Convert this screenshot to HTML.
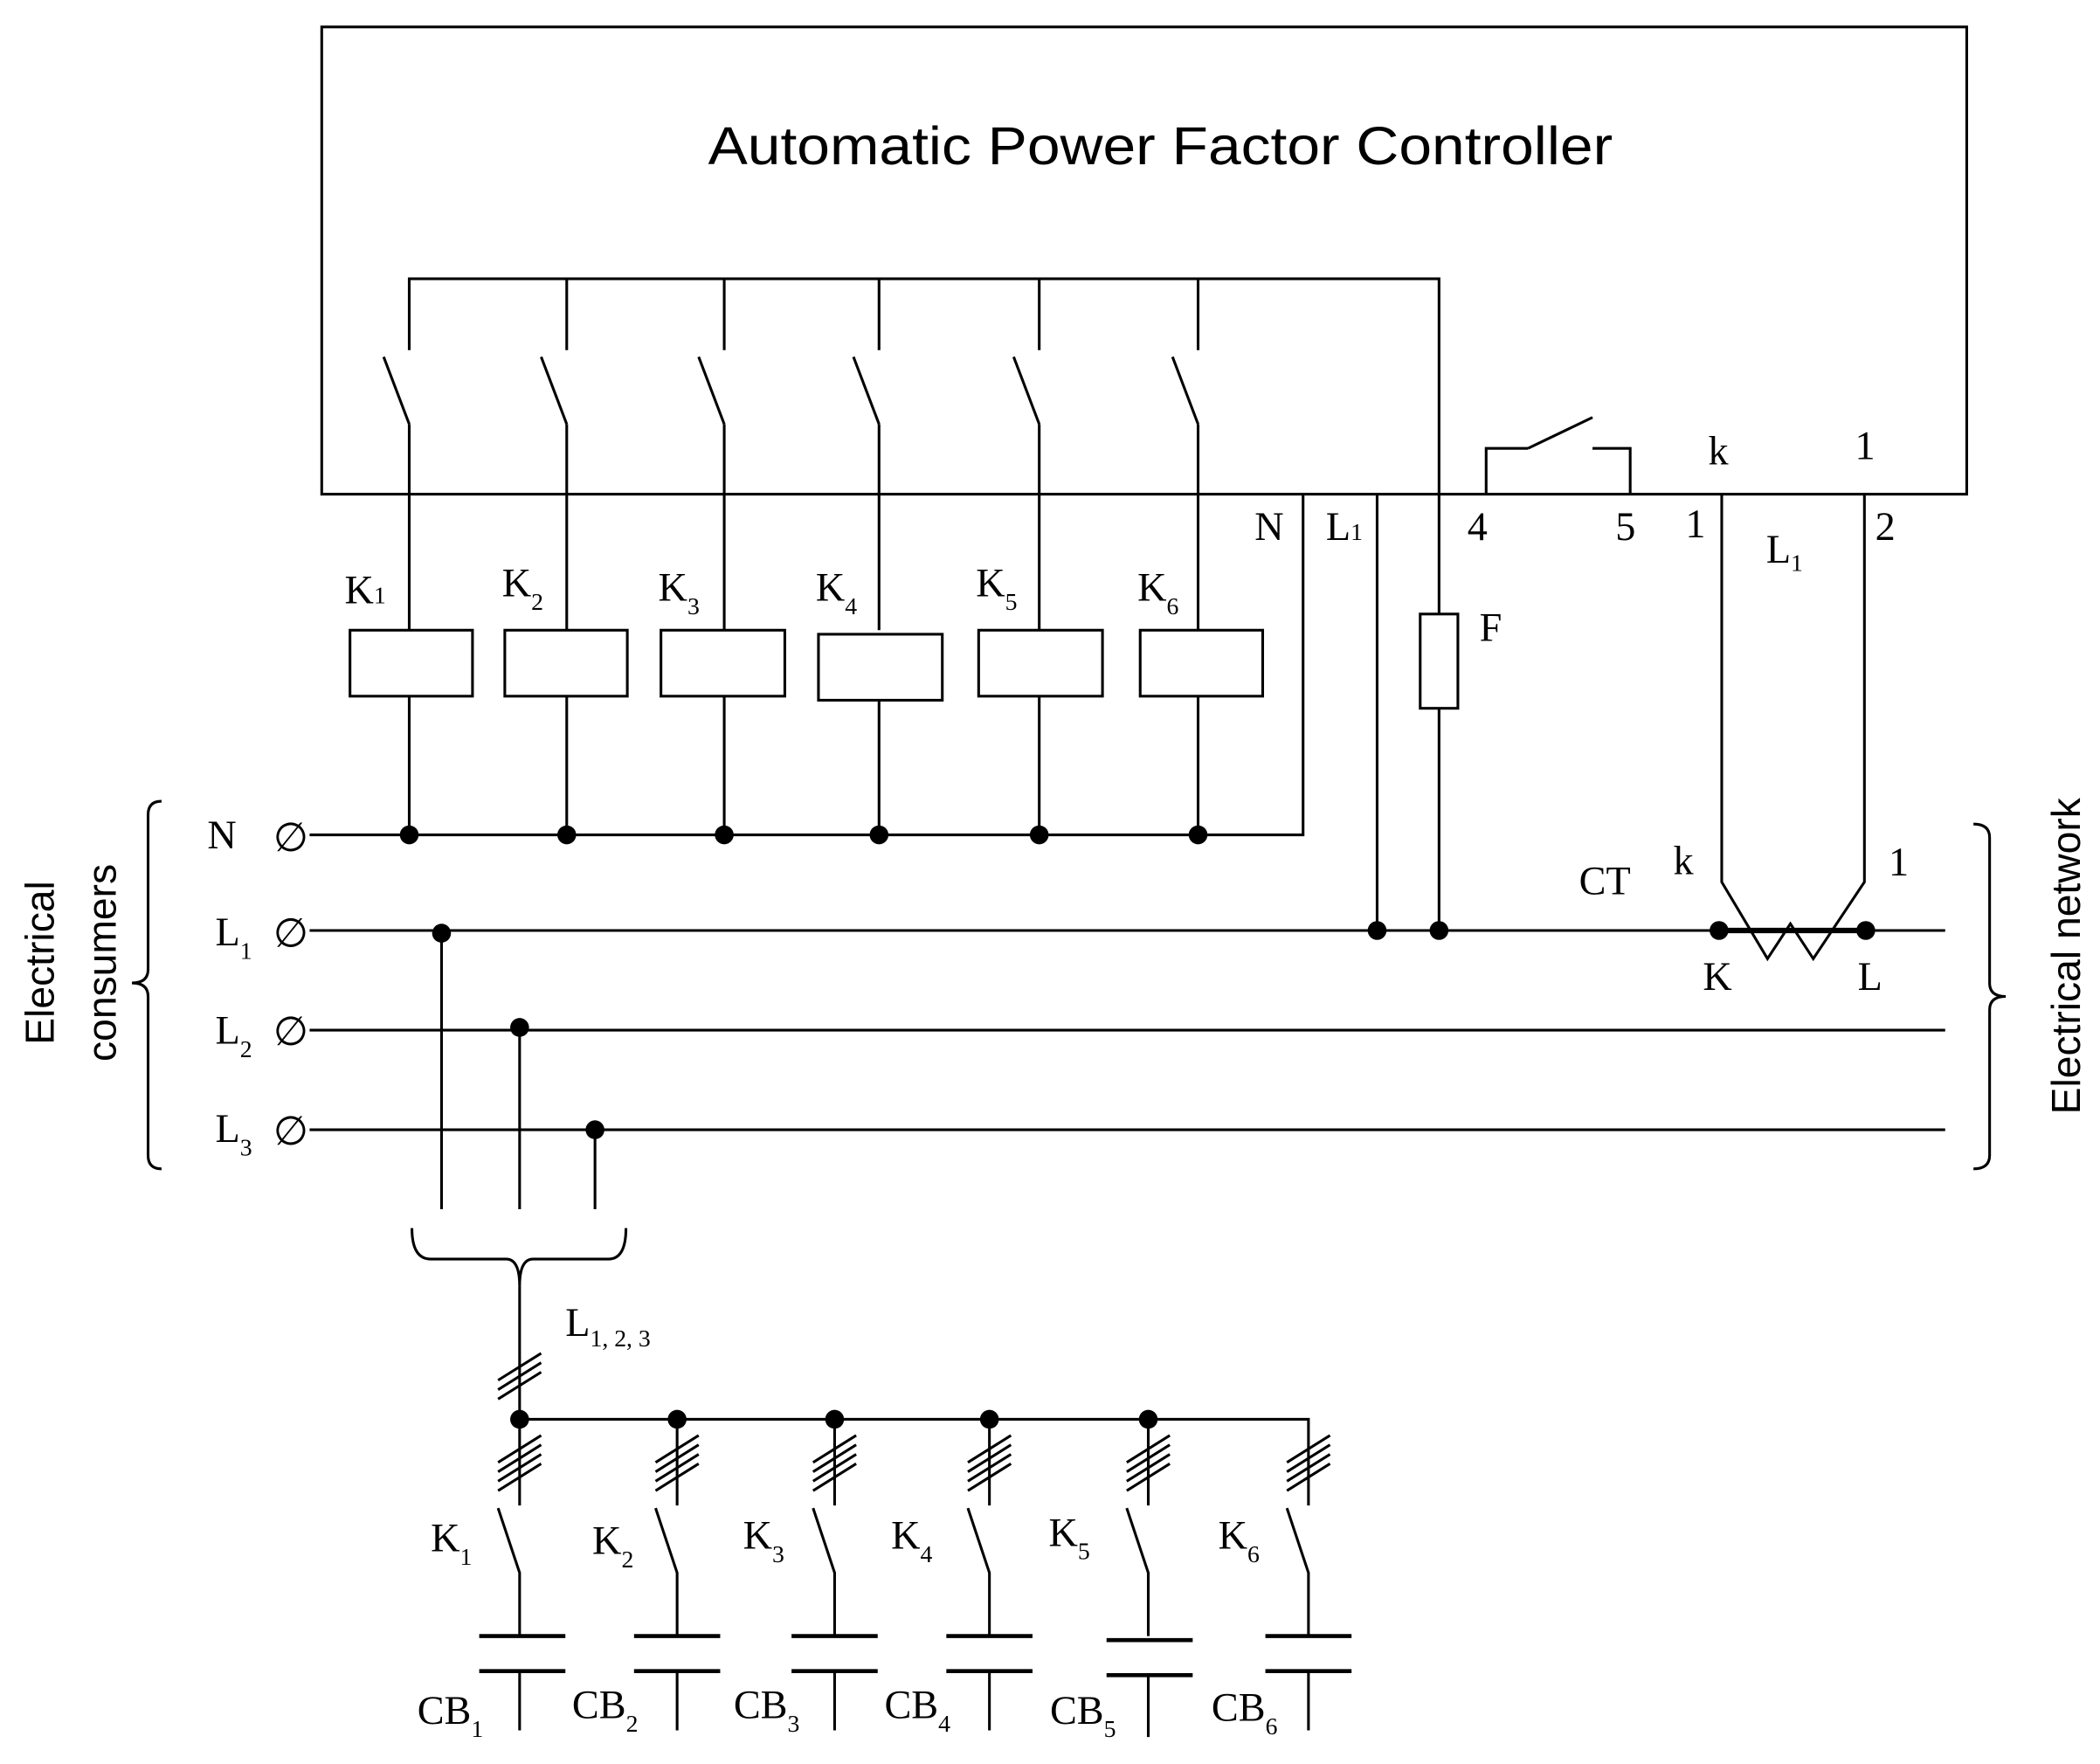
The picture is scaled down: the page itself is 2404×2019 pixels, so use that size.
<!DOCTYPE html>
<html><head><meta charset="utf-8"><style>
html,body{margin:0;padding:0;background:#fff}
svg{display:block}
.s{font-family:"Liberation Serif",serif;font-size:30px}
.b{font-family:"Liberation Sans",sans-serif}
</style></head><body>
<svg width="2404" height="2019" viewBox="0 0 1560 1310" preserveAspectRatio="none" xmlns="http://www.w3.org/2000/svg">
<g stroke="#000" stroke-width="2" fill="none">
<rect x="239" y="20" width="1222" height="347"/>
<polyline points="304,260 304,207 1069,207 1069,456"/>
<g id="sw">
</g>
<!-- top switches -->
<path d="M421,207V260 M538,207V260 M653,207V260 M772,207V260 M890,207V260"/>
<path d="M285,265L304,315 M402,265L421,315 M519,265L538,315 M634,265L653,315 M753,265L772,315 M871,265L890,315"/>
<path d="M304,315V468 M421,315V468 M538,315V468 M653,315V468 M772,315V468 M890,315V468"/>
<rect x="260" y="468" width="91" height="49"/>
<rect x="375" y="468" width="91" height="49"/>
<rect x="491" y="468" width="92" height="49"/>
<rect x="608" y="471" width="92" height="49"/>
<rect x="727" y="468" width="92" height="49"/>
<rect x="847" y="468" width="91" height="49"/>
<path d="M304,517V620 M421,517V620 M538,517V620 M653,520V620 M772,517V620 M890,517V620"/>
<rect x="1055" y="456" width="28" height="70"/>
<path d="M1069,526V691"/>
<polyline points="230,620 968,620 968,367"/>
<path d="M1023,367V691"/>
<polyline points="1104,367 1104,333 1135,333"/>
<path d="M1135,333L1183,310"/>
<polyline points="1183,333 1211,333 1211,367"/>
<polyline points="1279,367 1279,655 1313,712 1330,686 1347,712 1385,655 1385,367"/>
<path d="M230,691H1445 M230,765H1445 M230,839H1445"/>
<path d="M1277,691H1386" stroke-width="4"/>
<path d="M328,691V898 M386,765V898 M442,839V898"/>
<path d="M306,912Q306,935 320,935H376Q386,935 386,955Q386,935 396,935H452Q465,935 465,912"/>
<path d="M386,955V1054"/>
<path d="M370,1025L402,1005 M370,1032L402,1012 M370,1039L402,1019"/>
<polyline points="386,1054 972,1054 972,1118"/>
<path d="M386,1054V1118 M503,1054V1118 M620,1054V1118 M735,1054V1118 M853,1054V1118"/>
<g id="sl">
<path d="M370,1100L402,1080 M370,1093L402,1073 M370,1086L402,1066 M370,1107L402,1087"/>
</g>
<use href="#sl" x="117"/><use href="#sl" x="234"/><use href="#sl" x="349"/><use href="#sl" x="467"/><use href="#sl" x="586"/>
<path d="M370,1120L386,1168V1215 M487,1120L503,1168V1215 M604,1120L620,1168V1215 M719,1120L735,1168V1215 M837,1120L853,1168V1215 M956,1120L972,1168V1215"/>
<g stroke-width="3">
<path d="M356,1215H420 M471,1215H535 M588,1215H652 M703,1215H767 M822,1218H886 M940,1215H1004"/>
<path d="M356,1241H420 M471,1241H535 M588,1241H652 M703,1241H767 M822,1244H886 M940,1241H1004"/>
</g>
<path d="M386,1241V1285 M503,1241V1285 M620,1241V1285 M735,1241V1285 M853,1244V1290 M972,1241V1285"/>
<path d="M120,595Q110,595 110,605V720Q110,730 98,730Q110,730 110,740V858Q110,868 120,868"/>
<path d="M1466,612Q1478,612 1478,622V730Q1478,740 1490,740Q1478,740 1478,750V858Q1478,868 1466,868"/>
</g>
<g fill="#000">
<circle cx="304" cy="620" r="7"/><circle cx="421" cy="620" r="7"/><circle cx="538" cy="620" r="7"/><circle cx="653" cy="620" r="7"/><circle cx="772" cy="620" r="7"/><circle cx="890" cy="620" r="7"/>
<circle cx="328" cy="693" r="7"/><circle cx="386" cy="763" r="7"/><circle cx="442" cy="839" r="7"/>
<circle cx="1023" cy="691" r="7"/><circle cx="1069" cy="691" r="7"/><circle cx="1277" cy="691" r="7"/><circle cx="1386" cy="691" r="7"/>
<circle cx="386" cy="1054" r="7"/><circle cx="503" cy="1054" r="7"/><circle cx="620" cy="1054" r="7"/><circle cx="735" cy="1054" r="7"/><circle cx="853" cy="1054" r="7"/>
</g>
<text class="b" x="862" y="122" font-size="40" text-anchor="middle" textLength="672" lengthAdjust="spacingAndGlyphs">Automatic Power Factor Controller</text>
<g class="s">
<text x="256" y="448">K<tspan font-size="18">1</tspan></text>
<text x="373" y="443">K<tspan font-size="18" dy="10">2</tspan></text>
<text x="489" y="446">K<tspan font-size="18" dy="10">3</tspan></text>
<text x="606" y="446">K<tspan font-size="18" dy="10">4</tspan></text>
<text x="725" y="443">K<tspan font-size="18" dy="10">5</tspan></text>
<text x="845" y="446">K<tspan font-size="18" dy="10">6</tspan></text>
<text x="932" y="401">N</text>
<text x="985" y="401">L<tspan font-size="18">1</tspan></text>
<text x="1090" y="401">4</text><text x="1200" y="401">5</text><text x="1252" y="399">1</text>
<text x="1312" y="418">L<tspan font-size="18" dy="6">1</tspan></text>
<text x="1393" y="401">2</text>
<text x="1269" y="345">k</text><text x="1378" y="341">1</text>
<text x="1099" y="476">F</text>
<text x="1173" y="664">CT</text><text x="1243" y="649">k</text><text x="1403" y="650">1</text>
<text x="1265" y="735">K</text><text x="1380" y="735">L</text>
<text x="154" y="630">N</text><text x="203" y="632">∅</text>
<text x="160" y="702">L<tspan font-size="18" dy="10">1</tspan></text><text x="203" y="703">∅</text>
<text x="160" y="775">L<tspan font-size="18" dy="10">2</tspan></text><text x="203" y="776">∅</text>
<text x="160" y="848">L<tspan font-size="18" dy="10">3</tspan></text><text x="203" y="850">∅</text>
<text x="420" y="992">L<tspan font-size="18" dy="8">1, 2, 3</tspan></text>
<text x="320" y="1152">K<tspan font-size="18" dy="10">1</tspan></text>
<text x="440" y="1154">K<tspan font-size="18" dy="10">2</tspan></text>
<text x="552" y="1150">K<tspan font-size="18" dy="10">3</tspan></text>
<text x="662" y="1150">K<tspan font-size="18" dy="10">4</tspan></text>
<text x="779" y="1148">K<tspan font-size="18" dy="10">5</tspan></text>
<text x="905" y="1150">K<tspan font-size="18" dy="10">6</tspan></text>
<text x="310" y="1280">CB<tspan font-size="18" dy="10">1</tspan></text>
<text x="425" y="1276">CB<tspan font-size="18" dy="10">2</tspan></text>
<text x="545" y="1276">CB<tspan font-size="18" dy="10">3</tspan></text>
<text x="657" y="1276">CB<tspan font-size="18" dy="10">4</tspan></text>
<text x="780" y="1280">CB<tspan font-size="18" dy="10">5</tspan></text>
<text x="900" y="1278">CB<tspan font-size="18" dy="10">6</tspan></text>
</g>
<g class="b" font-size="30">
<text transform="translate(40,715) rotate(-90)" text-anchor="middle">Electrical</text>
<text transform="translate(86,715) rotate(-90)" text-anchor="middle">consumers</text>
<text transform="translate(1545,710) rotate(-90)" text-anchor="middle">Electrical network</text>
</g>
</svg>
</body></html>
